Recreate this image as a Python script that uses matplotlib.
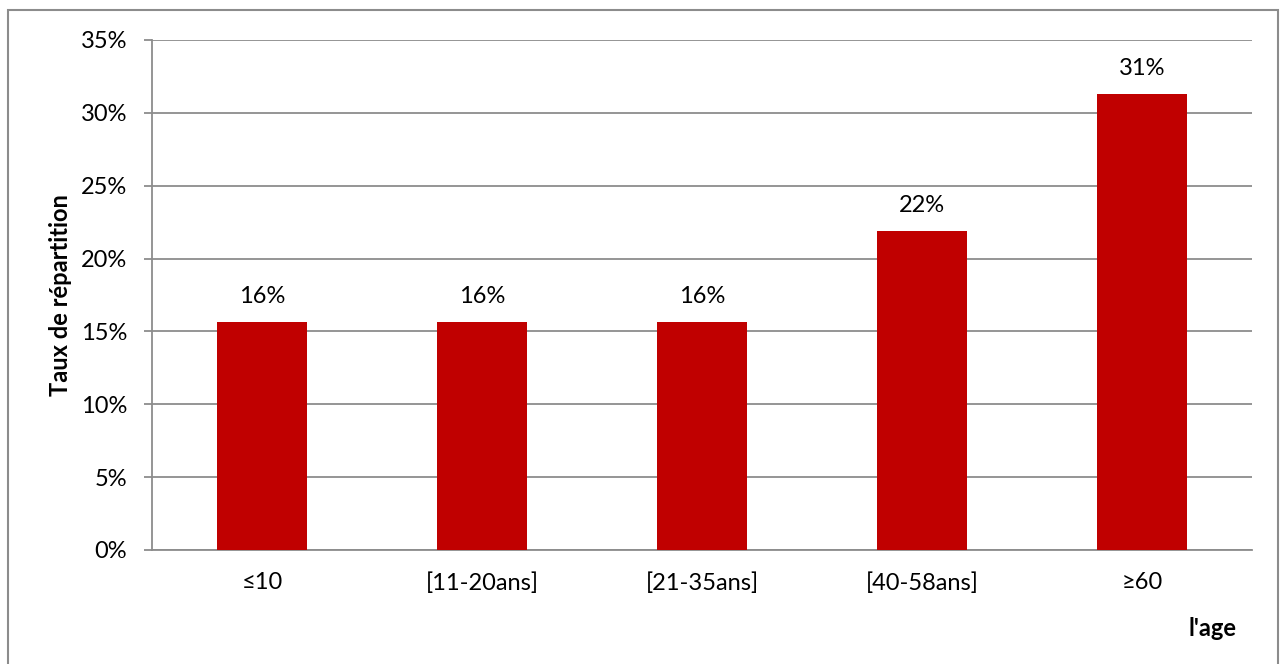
import matplotlib
matplotlib.use("Agg")
import matplotlib.pyplot as plt
from matplotlib.patches import Rectangle
from matplotlib.ticker import FuncFormatter, MultipleLocator

categories = ["≤10", "[11-20ans]", "[21-35ans]", "[40-58ans]", "≥60"]
values = [15.65, 15.65, 15.65, 21.9, 31.3]
labels = ["16%", "16%", "16%", "22%", "31%"]

plt.rcParams['font.family'] = ['Lato', 'DejaVu Sans']

W, H = 1282, 664
FS = 17
fig = plt.figure(figsize=(W/100, H/100), dpi=100)
ax = fig.add_axes([152/W, 1-550/H, (1252-152)/W, (550-40)/H])

x = list(range(len(categories)))
ax.bar(x, values, width=0.405, color="#C00000", zorder=3)
ax.set_xlim(-0.5, len(categories)-0.5)
ax.set_ylim(0, 35)
ax.yaxis.set_major_locator(MultipleLocator(5))
ax.yaxis.set_major_formatter(FuncFormatter(lambda v, p: f"{int(round(v))}%"))
ax.set_xticks(x)
ax.set_xticklabels(categories)
ax.grid(axis='y', color="#8c8c8c", linewidth=1.3, zorder=0)
for s in ["top", "right"]:
    ax.spines[s].set_visible(False)
for s in ["left", "bottom"]:
    ax.spines[s].set_color("#8c8c8c")
    ax.spines[s].set_linewidth(1.3)
ax.tick_params(axis='y', length=6, color="#8c8c8c", width=1.3, labelsize=FS, pad=12)
ax.tick_params(axis='x', length=0, labelsize=FS, pad=16)

for xi, v, lab in zip(x, values, labels):
    ax.annotate(lab, (xi, v), xytext=(0, 11), textcoords="offset points",
                ha="center", va="bottom", fontsize=FS)

fig.text(60/W, 1-295/H, "Taux de répartition", rotation=90, ha="center", va="center",
         fontsize=FS, fontweight="bold")
fig.text(1236/W, 1-628/H, "l'age", ha="right", va="center", fontsize=FS, fontweight="bold")

fig.patches.append(Rectangle((8/W, -0.1), (1278-8)/W, 1-10/H+0.1, transform=fig.transFigure,
                             fill=False, edgecolor="#8c8c8c", linewidth=1.5))

fig.savefig("out.png", dpi=100)
